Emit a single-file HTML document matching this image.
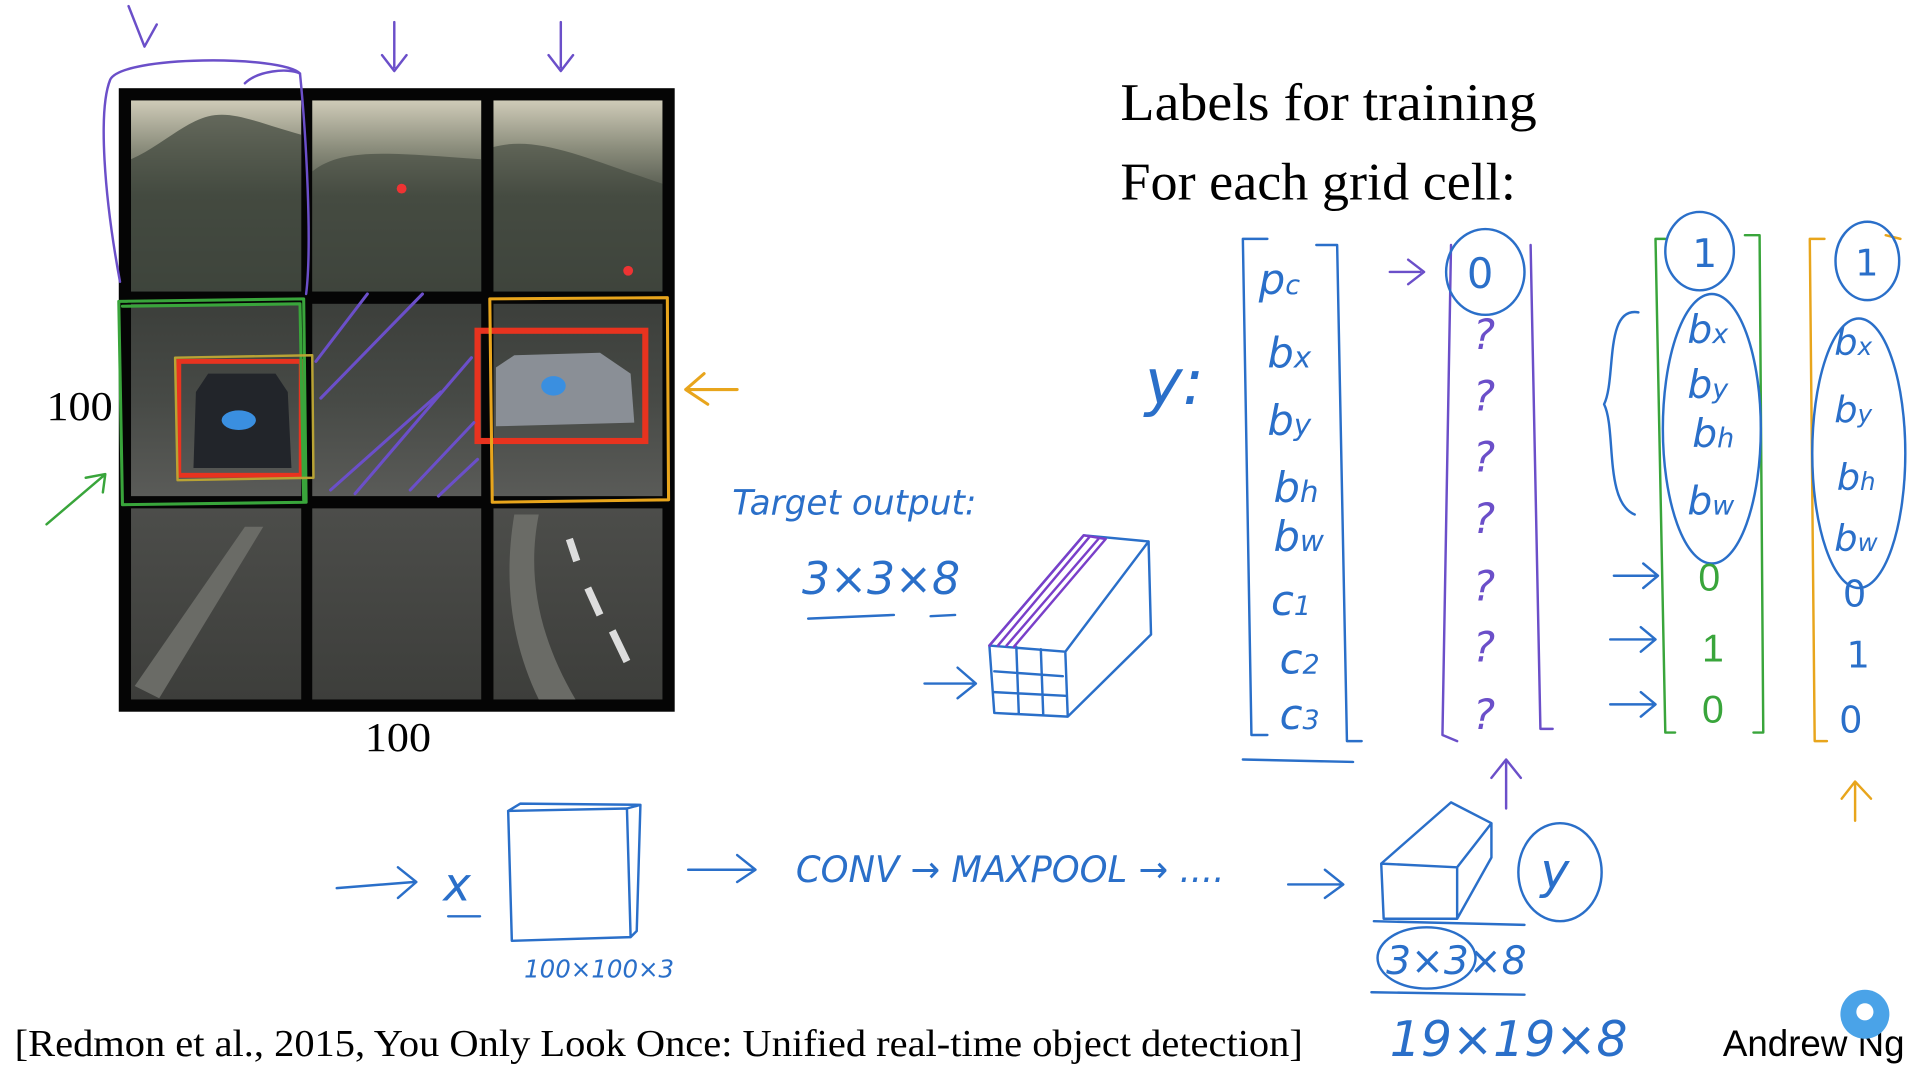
<!DOCTYPE html>
<html><head><meta charset="utf-8"><style>
html,body{margin:0;padding:0;background:#fff;overflow:hidden}
svg{display:block}
.h{font-family:"DejaVu Sans","Liberation Sans",sans-serif;font-style:italic;fill:#2a6fc9}
.s{fill:none;stroke-linecap:round;stroke-linejoin:round}
</style></head><body>
<svg width="1920" height="1078" viewBox="0 0 1568 880" preserveAspectRatio="none" xmlns="http://www.w3.org/2000/svg">
<defs>
<linearGradient id="sky" x1="0" y1="0" x2="0" y2="1">
<stop offset="0" stop-color="#cfcbb8"/><stop offset="0.25" stop-color="#8b8d7c"/><stop offset="0.5" stop-color="#4f544a"/><stop offset="1" stop-color="#3e423d"/></linearGradient>
<linearGradient id="mid" x1="0" y1="0" x2="0" y2="1">
<stop offset="0" stop-color="#3c3f3b"/><stop offset="0.5" stop-color="#474a46"/><stop offset="1" stop-color="#5a5b58"/></linearGradient>
<linearGradient id="bot" x1="0" y1="0" x2="0" y2="1">
<stop offset="0" stop-color="#4c4d4a"/><stop offset="1" stop-color="#3d3e3b"/></linearGradient>
</defs>
<rect width="1568" height="880" fill="#fff"/>
<rect x="97" y="72" width="454" height="509" fill="#050505"/>
<g>
<rect x="107" y="82" width="139" height="156" fill="url(#sky)"/>
<rect x="255" y="82" width="138" height="156" fill="url(#sky)"/>
<rect x="403" y="82" width="138" height="156" fill="url(#sky)"/>
<path d="M107 130 C130 120 150 100 170 95 C190 90 210 100 246 110 L246 238 L107 238Z" fill="#3f463c" opacity="0.7"/>
<path d="M255 140 C280 120 320 125 393 130 L393 238 L255 238Z" fill="#3f463c" opacity="0.6"/>
<path d="M403 120 C440 110 480 130 541 150 L541 238 L403 238Z" fill="#3f463c" opacity="0.6"/>
<rect x="107" y="248" width="139" height="157" fill="url(#mid)"/>
<rect x="255" y="248" width="138" height="157" fill="url(#mid)"/>
<rect x="403" y="248" width="138" height="157" fill="url(#mid)"/>
<rect x="107" y="415" width="139" height="156" fill="url(#bot)"/>
<rect x="255" y="415" width="138" height="156" fill="url(#bot)"/>
<rect x="403" y="415" width="138" height="156" fill="url(#bot)"/>
<path d="M110 560 L200 430 L215 430 L130 570Z" fill="#6a6b66"/>
<path d="M420 420 C410 480 420 530 440 571 L470 571 C440 520 430 470 440 420Z" fill="#6a6b66"/>
<path d="M465 440 l6 18 M480 480 l10 22 M500 515 l12 25" stroke="#ddd" stroke-width="6"/>
<circle cx="328" cy="154" r="4" fill="#e33"/>
<circle cx="513" cy="221" r="4" fill="#e33"/>
<path d="M160 320 L170 305 L225 305 L235 320 L238 382 L158 382Z" fill="#22252a"/>
<ellipse cx="195" cy="343" rx="14" ry="8" fill="#3a8fe0"/>
<path d="M405 300 L420 290 L490 288 L515 305 L518 345 L405 348Z" fill="#8a8f96"/>
<ellipse cx="452" cy="315" rx="10" ry="8" fill="#3a8fe0"/>
<rect x="146" y="295" width="100" height="93" fill="none" stroke="#e8331f" stroke-width="4"/>
<rect x="390" y="270" width="137" height="90" fill="none" stroke="#e8331f" stroke-width="5"/>
</g>
<path class="s" d="M98 230 C85 160 80 90 90 65 C100 45 230 45 245 60 C250 110 255 200 250 240 M200 68 C210 58 235 55 245 60" stroke="#6b4fc9" stroke-width="2"/>
<path class="s" d="M97 246 L248 244 L250 410 L100 412Z M100 250 L245 248 L248 408" stroke="#39a53b" stroke-width="2.5"/>
<path class="s" d="M143 292 L255 290 L256 390 L145 392Z" stroke="#b9a334" stroke-width="2"/>
<path class="s" d="M400 244 L545 243 L546 408 L402 410Z" stroke="#e8a51c" stroke-width="2.5"/>
<path class="s" d="M258 295 L300 240 M262 325 L345 240 M270 400 L360 320 M290 403 L385 292 M335 400 L387 345 M358 405 L390 375" stroke="#6b4fc9" stroke-width="2.5"/>
<path class="s" d="M105 5 L118 38 L128 20 M322 18 L322 55 M312 45 L322 58 L332 45 M458 18 L458 55 M448 45 L458 58 L468 45" stroke="#6b4fc9" stroke-width="2"/>
<path class="s" d="M38 428 L85 388 M70 390 L86 387 L84 402" stroke="#39a53b" stroke-width="2"/>
<path class="s" d="M602 318 L560 318 M575 305 L560 318 L578 330" stroke="#e8a51c" stroke-width="2.5"/>
<text x="38" y="343" font-family="Liberation Serif" font-size="34" textLength="54" lengthAdjust="spacingAndGlyphs">100</text>
<text x="298" y="613" font-family="Liberation Serif" font-size="34" textLength="54" lengthAdjust="spacingAndGlyphs">100</text>
<text x="915" y="98" font-family="Liberation Serif" font-size="43" textLength="340" lengthAdjust="spacingAndGlyphs">Labels for training</text>
<text x="915" y="163" font-family="Liberation Serif" font-size="43" textLength="323" lengthAdjust="spacingAndGlyphs">For each grid cell:</text>
<text class="h" x="598" y="420" font-size="28">Target output:</text>
<text class="h" x="655" y="485" font-size="36">3×3×8</text>
<path class="s" d="M660 505 L730 502 M760 503 L780 502" stroke="#2a6fc9" stroke-width="2"/>
<path class="s" d="M808 527 L885 437 L938 442 L940 518 L872 585 L812 582Z M808 527 L870 532 L872 585 M870 532 L938 442 M812 548 L868 552 M812 565 L870 568 M830 528 L832 582 M850 530 L852 584" stroke="#2a6fc9" stroke-width="2"/>
<path class="s" d="M808 527 L885 437 L903 440 L828 528 M815 527 L890 438 M822 527 L897 440" stroke="#7a3fc9" stroke-width="2"/>
<path class="s" d="M755 558 L795 558 M782 545 L797 558 L782 570" stroke="#2a6fc9" stroke-width="2"/>
<text class="h" x="935" y="330" font-size="52">y:</text>
<path class="s" d="M1035 195 L1015 195 L1022 600 L1035 600 M1075 200 L1092 200 L1100 605 L1112 605 M1015 620 L1105 622" stroke="#2a6fc9" stroke-width="2"/>
<g class="h" font-size="34">
<text x="1028" y="240">p<tspan font-size="22">c</tspan></text>
<text x="1035" y="300">b<tspan font-size="24">x</tspan></text>
<text x="1035" y="355">b<tspan font-size="24">y</tspan></text>
<text x="1040" y="410">b<tspan font-size="24">h</tspan></text>
<text x="1040" y="450">b<tspan font-size="24">w</tspan></text>
<text x="1038" y="502">c<tspan font-size="22">1</tspan></text>
<text x="1045" y="550">c<tspan font-size="22">2</tspan></text>
<text x="1045" y="595">c<tspan font-size="22">3</tspan></text>
</g>
<path class="s" d="M1135 222 L1160 222 M1150 212 L1163 222 L1150 232" stroke="#6b4fc9" stroke-width="2"/>
<path class="s" d="M1185 200 L1178 600 L1190 605 M1250 200 L1258 595 L1268 595" stroke="#6b4fc9" stroke-width="2"/>
<ellipse cx="1213" cy="222" rx="32" ry="35" fill="none" stroke="#2a6fc9" stroke-width="2"/>
<g class="h" font-size="34">
<text x="1198" y="235" font-style="normal">0</text>
<text x="1203" y="285" fill="#6b4fc9">?</text>
<text x="1203" y="335" fill="#6b4fc9">?</text>
<text x="1203" y="385" fill="#6b4fc9">?</text>
<text x="1203" y="435" fill="#6b4fc9">?</text>
<text x="1203" y="490" fill="#6b4fc9">?</text>
<text x="1203" y="540" fill="#6b4fc9">?</text>
<text x="1203" y="595" fill="#6b4fc9">?</text>
</g>
<path class="s" d="M1230 660 L1230 622 M1218 635 L1230 620 L1242 635" stroke="#6b4fc9" stroke-width="2"/>
<path class="s" d="M1360 195 L1352 195 L1360 598 L1368 598 M1425 192 L1437 192 L1440 598 L1432 598" stroke="#39a53b" stroke-width="2"/>
<path class="s" d="M1338 255 C1310 250 1320 310 1310 330 C1320 350 1310 410 1335 420" stroke="#2a6fc9" stroke-width="2"/>
<ellipse cx="1388" cy="205" rx="28" ry="32" fill="none" stroke="#2a6fc9" stroke-width="2"/>
<ellipse cx="1398" cy="350" rx="40" ry="110" fill="none" stroke="#2a6fc9" stroke-width="2"/>
<g class="h" font-size="32">
<text x="1382" y="218" font-style="normal">1</text>
<text x="1378" y="280">b<tspan font-size="22">x</tspan></text>
<text x="1378" y="325">b<tspan font-size="22">y</tspan></text>
<text x="1382" y="365">b<tspan font-size="22">h</tspan></text>
<text x="1378" y="420">b<tspan font-size="22">w</tspan></text>
</g>
<g font-family="Liberation Sans" font-size="32" fill="#39a53b">
<text x="1387" y="482">0</text><text x="1390" y="540">1</text><text x="1390" y="590">0</text>
</g>
<path class="s" d="M1318 470 L1352 470 M1342 460 L1354 470 L1342 480 M1315 522 L1350 522 M1340 512 L1352 522 L1340 532 M1315 575 L1350 575 M1340 565 L1352 575 L1340 585" stroke="#2a6fc9" stroke-width="2"/>
<path class="s" d="M1490 195 L1478 195 L1482 605 L1492 605 M1540 192 L1552 195" stroke="#e8a51c" stroke-width="2"/>
<ellipse cx="1525" cy="213" rx="26" ry="32" fill="none" stroke="#2a6fc9" stroke-width="2"/>
<ellipse cx="1518" cy="370" rx="38" ry="110" fill="none" stroke="#2a6fc9" stroke-width="2"/>
<g class="h" font-size="30" fill="#e8a51c">
<text x="1515" y="225" font-style="normal">1</text>
<text x="1498" y="290">b<tspan font-size="20">x</tspan></text>
<text x="1498" y="345">b<tspan font-size="20">y</tspan></text>
<text x="1500" y="400">b<tspan font-size="20">h</tspan></text>
<text x="1498" y="450">b<tspan font-size="20">w</tspan></text>
<text x="1505" y="495" font-style="normal">0</text>
<text x="1508" y="545" font-style="normal">1</text>
<text x="1502" y="598" font-style="normal">0</text>
</g>
<path class="s" d="M1515 670 L1515 640 M1504 652 L1515 638 L1528 652" stroke="#e8a51c" stroke-width="2"/>
<path class="s" d="M275 725 L338 720 M325 708 L340 720 L325 733" stroke="#2a6fc9" stroke-width="2"/>
<text class="h" x="362" y="735" font-size="38">x</text>
<path class="s" d="M366 748 L392 748" stroke="#2a6fc9" stroke-width="2"/>
<path class="s" d="M415 662 L512 660 L515 765 L418 768Z M415 662 L425 656 L523 657 L520 760 L515 765 M512 660 L523 657" stroke="#2a6fc9" stroke-width="2"/>
<text class="h" x="428" y="798" font-size="20">100×100×3</text>
<path class="s" d="M562 710 L615 710 M602 698 L617 710 L602 720" stroke="#2a6fc9" stroke-width="2"/>
<text class="h" x="650" y="720" font-size="30" textLength="350" lengthAdjust="spacingAndGlyphs">CONV → MAXPOOL → ....</text>
<path class="s" d="M1052 722 L1095 722 M1082 710 L1097 722 L1082 733" stroke="#2a6fc9" stroke-width="2"/>
<path class="s" d="M1128 705 L1185 655 L1218 672 L1218 700 L1190 750 L1130 750Z M1128 705 L1190 708 L1218 672 M1190 708 L1190 750" stroke="#2a6fc9" stroke-width="2"/>
<ellipse cx="1274" cy="712" rx="34" ry="40" fill="none" stroke="#2a6fc9" stroke-width="2"/>
<text class="h" x="1258" y="725" font-size="40">y</text>
<path class="s" d="M1122 752 L1245 755 M1120 810 L1245 812" stroke="#2a6fc9" stroke-width="2"/>
<ellipse cx="1165" cy="782" rx="40" ry="25" fill="none" stroke="#2a6fc9" stroke-width="2"/>
<text class="h" x="1132" y="795" font-size="32">3×3×8</text>
<text class="h" x="1135" y="862" font-size="40">19×19×8</text>
<text x="12" y="862" font-family="Liberation Serif" font-size="31" textLength="1052" lengthAdjust="spacingAndGlyphs">[Redmon et al., 2015, You Only Look Once: Unified real-time object detection]</text>
<text x="1407" y="862" font-family="Liberation Sans" font-size="30">Andrew Ng</text>
<circle cx="1523" cy="828" r="20" fill="#4aa3e8"/>
<circle cx="1523" cy="826" r="7" fill="#fff"/>
</svg>
</body></html>
